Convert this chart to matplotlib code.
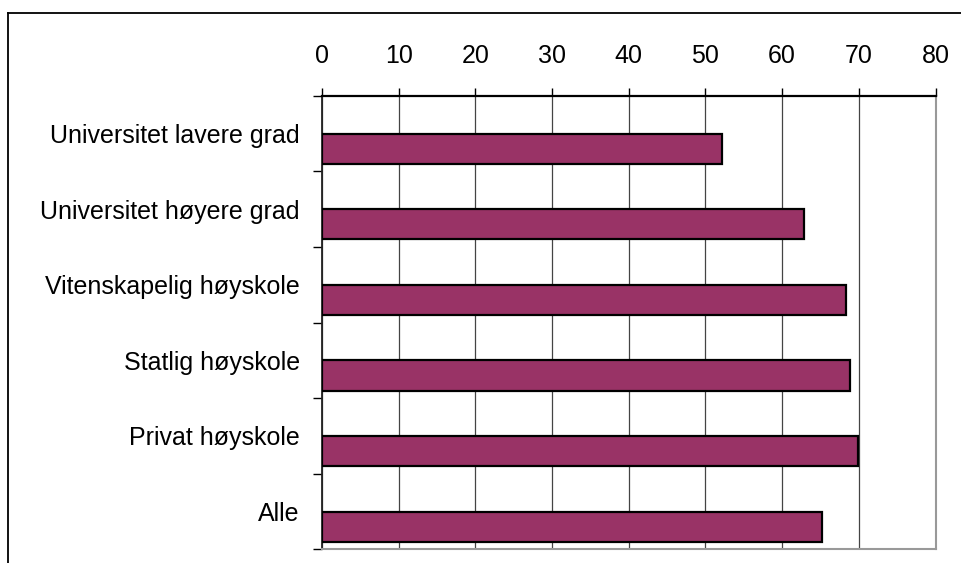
import numpy as np
import matplotlib
matplotlib.use("Agg")
import matplotlib.pyplot as plt
from matplotlib.patches import Rectangle

# data
categories = ["Universitet lavere grad", "Universitet høyere grad",
              "Vitenskapelig høyskole", "Statlig høyskole",
              "Privat høyskole", "Alle"]
values = [52.2, 62.9, 68.3, 68.9, 69.9, 65.2]
x_ticks = [0, 10, 20, 30, 40, 50, 60, 70, 80]

plt.rcParams['font.family'] = ['Liberation Sans', 'DejaVu Sans']

fig = plt.figure(figsize=(9.62, 5.63), dpi=100)
ax = fig.add_axes([322 / 962, 1 - 549.3 / 563, (935.5 - 322) / 962, (549.3 - 95.7) / 563])

# outer frame (right/bottom cut off)
fig.add_artist(plt.Line2D([8 / 962, 8 / 962], [0, 1 - 13 / 563], transform=fig.transFigure,
                          color='black', lw=1.3))
fig.add_artist(plt.Line2D([8 / 962, 1], [1 - 13 / 563, 1 - 13 / 563], transform=fig.transFigure,
                          color='black', lw=1.3))

pos = np.arange(len(categories))
ax.barh(pos + 0.2, values, height=0.4, color='#993366', edgecolor='black',
        linewidth=1.6, zorder=3)

ax.set_xlim(0, 80)
ax.set_ylim(len(categories) - 0.5, -0.5)
ax.set_xticks(x_ticks)
ax.set_xticklabels([str(t) for t in x_ticks])
ax.xaxis.tick_top()
ax.tick_params(axis='x', which='major', direction='out', length=6, width=1,
               labelsize=18, pad=14, color='black')
ax.grid(True, axis='x', color='#444444', lw=0.9, zorder=0)

ax.set_yticks(pos)
ax.set_yticklabels(categories)
ax.tick_params(axis='y', which='major', length=0, labelsize=18, pad=16)
ax.set_yticks(np.arange(len(categories) + 1) - 0.5, minor=True)
ax.tick_params(axis='y', which='minor', direction='out', length=6.5, width=1, color='black')

ax.spines['top'].set_linewidth(1.6)
ax.spines['top'].set_color('black')
ax.spines['left'].set_linewidth(1.3)
ax.spines['left'].set_color('#222222')
ax.spines['right'].set_color('#999999')
ax.spines['right'].set_linewidth(1.5)
ax.spines['bottom'].set_color('#999999')
ax.spines['bottom'].set_linewidth(1.5)

fig.savefig("out.png", dpi=100)
